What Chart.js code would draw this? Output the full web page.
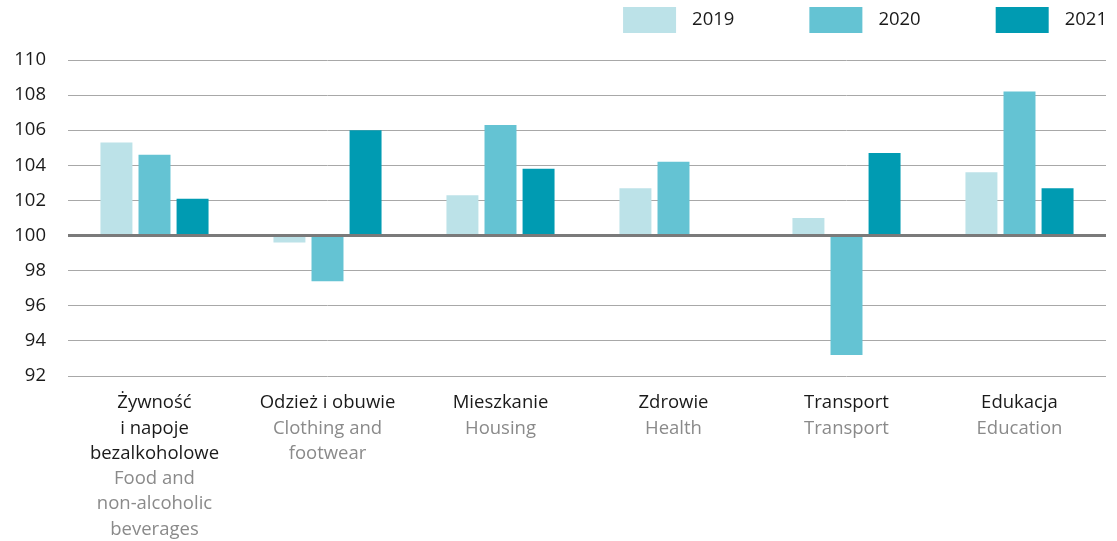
<!DOCTYPE html>
<html>
<head>
<meta charset="utf-8">
<script src="https://cdn.jsdelivr.net/npm/chart.js@4/dist/chart.umd.min.js"></script>
<style>
html,body{margin:0;padding:0;background:#fff;}
#wrap{width:1117px;height:541px;}
</style>
</head>
<body>
<div id="wrap"><canvas id="c" width="1117" height="541"></canvas></div>
<script>
const categoriesPL = [["Żywność","i napoje","bezalkoholowe"],["Odzież i obuwie"],["Mieszkanie"],["Zdrowie"],["Transport"],["Edukacja"]];
const categoriesEN = [["Food and","non-alcoholic","beverages"],["Clothing and","footwear"],["Housing"],["Health"],["Transport"],["Education"]];
const seriesNames = ["2019","2020","2021"];
const values2019 = [105.3, 99.6, 102.3, 102.7, 101.0, 103.6];
const values2020 = [104.6, 97.4, 106.3, 104.2, 93.2, 108.2];
const values2021 = [102.1, 106.0, 103.8, 100.0, 104.7, 102.7];
const yTicks = [92,94,96,98,100,102,104,106,108,110];
const colors = ["#bce2e8","#64c3d3","#009bb2"];
const FONT = "'Open Sans', 'Noto Sans', sans-serif";
const FS = 18.5;

const labelPlugin = {
  id:'multiLabels',
  afterDraw(chart){
    const ctx = chart.ctx;
    const xs = chart.scales.x;
    ctx.save();
    ctx.font = FS + "px " + FONT;
    ctx.textAlign = 'center';
    ctx.textBaseline = 'middle';
    const top = 403, lh = 25.3;
    categoriesPL.forEach((pl,i)=>{
      const x = xs.getPixelForValue(i);
      let y = top;
      ctx.fillStyle = '#1a1a1a';
      pl.forEach(l=>{ctx.fillText(l,x,y); y+=lh;});
      ctx.fillStyle = '#8a8a8a';
      categoriesEN[i].forEach(l=>{ctx.fillText(l,x,y); y+=lh;});
    });
    // legend
    const bw = 53, bh = 26, gap = 16, itemGap = 75;
    ctx.textAlign = 'left';
    let widths = seriesNames.map(s=>ctx.measureText(s).width);
    let total = widths.reduce((a,w)=>a+bw+gap+w,0) + itemGap*(seriesNames.length-1);
    let x = chart.width - 10 - total;
    const ly = 7;
    seriesNames.forEach((s,i)=>{
      ctx.fillStyle = colors[i];
      ctx.fillRect(x, ly, bw, bh);
      ctx.fillStyle = '#1a1a1a';
      ctx.fillText(s, x+bw+gap, ly+bh/2);
      x += bw + gap + widths[i] + itemGap;
    });
    ctx.restore();
  }
};

new Chart(document.getElementById('c'),{
  type:'bar',
  data:{
    labels: categoriesPL.map(a=>a.join(' ')),
    datasets:[
      {label:seriesNames[0],data:values2019,backgroundColor:colors[0],base:100},
      {label:seriesNames[1],data:values2020,backgroundColor:colors[1],base:100},
      {label:seriesNames[2],data:values2021,backgroundColor:colors[2],base:100}
    ]
  },
  options:{
    responsive:false,
    animation:false,
    categoryPercentage:0.66,
    barPercentage:0.84,
    layout:{padding:{left:0,right:11,top:60,bottom:157}},
    plugins:{
      legend:{display:false},
      tooltip:{enabled:false}
    },
    scales:{
      x:{
        grid:{display:false},
        border:{display:false},
        ticks:{display:false}
      },
      y:{
        min:92,max:110,
        afterBuildTicks(scale){scale.ticks = yTicks.map(v=>({value:v}));},
        afterFit(scale){scale.width = 68;},
        border:{display:false},
        grid:{
          drawTicks:false,
          color:(c)=>c.tick && c.tick.value===100 ? '#7a7a7a' : '#a8a8a8',
          lineWidth:(c)=>c.tick && c.tick.value===100 ? 3 : 1
        },
        ticks:{padding:22,color:'#1a1a1a',font:{family:FONT,size:FS}}
      }
    }
  },
  plugins:[labelPlugin]
});
</script>
</body>
</html>
